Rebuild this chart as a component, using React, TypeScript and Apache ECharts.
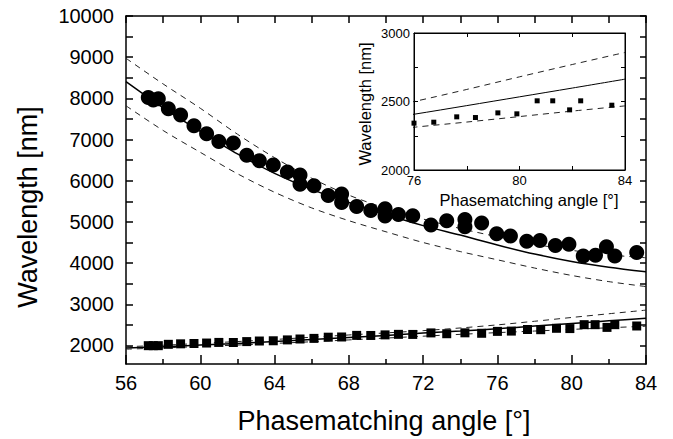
import React, { useEffect, useRef } from "react";
import * as echarts from "echarts";

// Theory curves (read at 2° steps)
const curveAngles = [56, 58, 60, 62, 64, 66, 68, 70, 72, 74, 76, 78, 80, 82, 84];
const idlerTheory = [8405, 7770, 7200, 6650, 6180, 5790, 5470, 5180, 4910, 4680, 4440, 4220, 4040, 3900, 3790];
const idlerUpper = [8973, 8350, 7760, 7130, 6560, 6060, 5650, 5330, 5070, 4840, 4640, 4460, 4310, 4200, 4130];
const idlerLower = [7820, 7220, 6690, 6170, 5720, 5340, 5030, 4760, 4500, 4280, 4080, 3880, 3700, 3550, 3430];
const signalTheory = [1940, 1970, 2010, 2050, 2095, 2145, 2195, 2245, 2300, 2350, 2407, 2470, 2534, 2598, 2663];
const signalUpper = [1970, 2005, 2050, 2095, 2145, 2200, 2255, 2305, 2360, 2425, 2500, 2588, 2680, 2770, 2858];
const signalLower = [1910, 1940, 1975, 2010, 2050, 2090, 2135, 2180, 2225, 2270, 2312, 2350, 2390, 2430, 2468];

// Measured signal points (squares)
const signalAngles = [57.2, 57.47, 57.74, 58.28, 58.94, 59.66, 60.34, 61.0, 61.78, 62.5, 63.18, 63.93, 64.69, 65.37, 66.12, 66.89, 67.61, 68.42, 69.18, 69.95, 70.67, 71.44, 72.42, 73.27, 74.25, 75.15, 76.0, 76.75, 77.62, 78.33, 79.18, 79.9, 80.67, 81.26, 81.9, 82.32, 83.5];
const signalValues = [1995, 1995, 1995, 2028, 2040, 2048, 2059, 2074, 2072, 2094, 2108, 2114, 2135, 2157, 2172, 2201, 2206, 2245, 2243, 2257, 2270, 2268, 2305, 2285, 2307, 2296, 2342, 2349, 2388, 2383, 2417, 2410, 2505, 2505, 2439, 2505, 2473];

// Measured idler points (circles)
const idlerAngles = [57.2, 57.47, 57.74, 58.28, 58.94, 59.66, 60.34, 61.0, 61.78, 62.5, 63.18, 63.93, 64.69, 65.37, 65.37, 66.12, 66.89, 67.61, 67.61, 68.42, 69.18, 69.95, 69.95, 70.67, 71.44, 72.42, 73.27, 74.25, 74.25, 75.15, 75.96, 76.7, 77.58, 78.29, 79.12, 79.85, 80.62, 81.28, 81.87, 82.32, 83.5];
const idlerValues = [8020, 7960, 7990, 7750, 7597, 7335, 7140, 6950, 6915, 6620, 6485, 6383, 6215, 6141, 5915, 5878, 5640, 5680, 5470, 5372, 5276, 5320, 5146, 5180, 5150, 4927, 5030, 5060, 4880, 4975, 4715, 4660, 4530, 4550, 4430, 4460, 4175, 4190, 4400, 4170, 4260];

// Tick labels
const mainYLabels = [2000, 3000, 4000, 5000, 6000, 7000, 8000, 9000, 10000];
const mainYTicks = [2000, 2500, 3000, 3500, 4000, 4500, 5000, 5500, 6000, 6500, 7000, 7500, 8000, 8500, 9000, 9500, 10000];

const xTitle = "Phasematching angle [°]";
const yTitle = "Wavelength [nm]";

const FONT = "'Liberation Sans', Arial, Helvetica, sans-serif";

const pairs = (xs: number[], ys: number[]) => xs.map((x, i) => [x, ys[i]]);

export default function App() {
  const ref = useRef<HTMLDivElement>(null);
  useEffect(() => {
    if (!ref.current) return;
    const chart = echarts.init(ref.current, null, { renderer: "svg" });
    const blk = "#000";
    const lineSeries = (data: number[][], dashed: boolean, xi: number, yi: number, z: number, w: number) => ({
      type: "line",
      xAxisIndex: xi,
      yAxisIndex: yi,
      data,
      smooth: 0.3,
      showSymbol: false,
      symbol: "none",
      z,
      lineStyle: { color: dashed ? "#222" : blk, width: w, type: dashed ? [6, 5] : "solid" },
      silent: true,
    });
    const option: any = {
      animation: false,
      backgroundColor: "#fff",
      grid: [
        { left: 126, top: 16, width: 520, height: 348, show: false },
        { left: 414, top: 33, width: 211, height: 137, show: true, backgroundColor: "#fff", borderColor: blk, borderWidth: 1, z: 10 },
      ],
      xAxis: [
        {
          gridIndex: 0, type: "value", min: 56, max: 84, interval: 4, position: "bottom",
          axisLine: { lineStyle: { color: blk, width: 1.5 } },
          axisTick: { inside: true, length: 9, lineStyle: { color: blk, width: 1.5 } },
          minorTick: { show: true, splitNumber: 2, length: 5, lineStyle: { color: blk, width: 1.5 } },
          axisLabel: { color: blk, fontSize: 20, fontFamily: FONT, margin: 9, formatter: (v: number) => String(v) },
          splitLine: { show: false },
        },
        {
          gridIndex: 0, type: "value", min: 56, max: 84, interval: 2, position: "top",
          axisLine: { lineStyle: { color: blk, width: 1.5 } },
          axisTick: { inside: true, length: 7, lineStyle: { color: blk, width: 1.5 } },
          axisLabel: { show: false },
          splitLine: { show: false },
        },
        {
          gridIndex: 1, type: "value", min: 76, max: 84, interval: 2, position: "bottom", z: 12,
          axisLine: { lineStyle: { color: blk, width: 1 } },
          axisTick: { inside: true, length: 4, lineStyle: { color: blk, width: 1 } },
          axisLabel: { color: blk, fontSize: 13, fontFamily: FONT, margin: 4, formatter: (v: number) => (v % 4 === 0 ? String(v) : "") },
          splitLine: { show: false },
        },
        {
          gridIndex: 1, type: "value", min: 76, max: 84, interval: 2, position: "top", z: 12,
          axisLine: { lineStyle: { color: blk, width: 1 } },
          axisTick: { inside: true, length: 4, lineStyle: { color: blk, width: 1 } },
          axisLabel: { show: false },
          splitLine: { show: false },
        },
      ],
      yAxis: [
        {
          gridIndex: 0, type: "value", min: 1550, max: 10000, position: "left",
          axisLine: { show: true, lineStyle: { color: blk, width: 1.5 } },
          axisTick: { show: true, inside: true, length: 7, customValues: mainYTicks, lineStyle: { color: blk, width: 1.5 } },
          axisLabel: { color: blk, fontSize: 20, fontFamily: FONT, margin: 12, customValues: mainYLabels, formatter: (v: number) => String(v) },
          splitLine: { show: false },
        },
        {
          gridIndex: 0, type: "value", min: 1550, max: 10000, position: "right",
          axisLine: { show: true, lineStyle: { color: blk, width: 1.5 } },
          axisTick: { show: true, inside: true, length: 6, customValues: mainYTicks, lineStyle: { color: blk, width: 1.5 } },
          axisLabel: { show: false },
          splitLine: { show: false },
        },
        {
          gridIndex: 1, type: "value", min: 2000, max: 3000, interval: 250, position: "left", z: 12,
          axisLine: { show: true, lineStyle: { color: blk, width: 1 } },
          axisTick: { show: true, inside: true, length: 4, lineStyle: { color: blk, width: 1 } },
          axisLabel: { color: blk, fontSize: 13, fontFamily: FONT, margin: 4, formatter: (v: number) => (v % 500 === 0 ? String(v) : "") },
          splitLine: { show: false },
        },
        {
          gridIndex: 1, type: "value", min: 2000, max: 3000, interval: 250, position: "right", z: 12,
          axisLine: { show: true, lineStyle: { color: blk, width: 1 } },
          axisTick: { show: true, inside: true, length: 4, lineStyle: { color: blk, width: 1 } },
          axisLabel: { show: false },
          splitLine: { show: false },
        },
      ],
      series: [
        lineSeries(pairs(curveAngles, idlerTheory), false, 0, 0, 2, 1.5),
        lineSeries(pairs(curveAngles, idlerUpper), true, 0, 0, 2, 1),
        lineSeries(pairs(curveAngles, idlerLower), true, 0, 0, 2, 1),
        lineSeries(pairs(curveAngles, signalTheory), false, 0, 0, 2, 1.5),
        lineSeries(pairs(curveAngles, signalUpper), true, 0, 0, 2, 1),
        lineSeries(pairs(curveAngles, signalLower), true, 0, 0, 2, 1),
        {
          type: "scatter", xAxisIndex: 0, yAxisIndex: 0, data: pairs(idlerAngles, idlerValues),
          symbol: "circle", symbolSize: 15, itemStyle: { color: blk, opacity: 1 }, z: 3, silent: true,
        },
        {
          type: "scatter", xAxisIndex: 0, yAxisIndex: 0, data: pairs(signalAngles, signalValues),
          symbol: "rect", symbolSize: 9, itemStyle: { color: blk, opacity: 1 }, z: 3, silent: true,
        },
        lineSeries(pairs(curveAngles, signalTheory), false, 2, 2, 11, 1),
        lineSeries(pairs(curveAngles, signalUpper), true, 2, 2, 11, 1),
        lineSeries(pairs(curveAngles, signalLower), true, 2, 2, 11, 1),
        {
          type: "scatter", xAxisIndex: 2, yAxisIndex: 2, data: pairs(signalAngles, signalValues),
          symbol: "rect", symbolSize: 5, itemStyle: { color: blk, opacity: 1 }, z: 11, silent: true,
        },
      ],
      graphic: [
        {
          type: "text", x: 384, y: 421, z: 20,
          style: { text: xTitle, fontSize: 27, fontFamily: FONT, fill: blk, textAlign: "center", textVerticalAlign: "middle" },
        },
        {
          type: "text", x: 28, y: 207, rotation: Math.PI / 2, z: 20,
          style: { text: yTitle, fontSize: 27, fontFamily: FONT, fill: blk, textAlign: "center", textVerticalAlign: "middle" },
        },
        {
          type: "text", x: 529, y: 200, z: 20,
          style: { text: xTitle, fontSize: 16.5, fontFamily: FONT, fill: blk, textAlign: "center", textVerticalAlign: "middle" },
        },
        {
          type: "text", x: 365, y: 104, rotation: Math.PI / 2, z: 20,
          style: { text: yTitle, fontSize: 16.5, fontFamily: FONT, fill: blk, textAlign: "center", textVerticalAlign: "middle" },
        },
      ],
    };
    chart.setOption(option);
    return () => chart.dispose();
  }, []);
  return <div ref={ref} style={{ position: "fixed", left: 0, top: 0, width: 673, height: 439 }} />;
}
